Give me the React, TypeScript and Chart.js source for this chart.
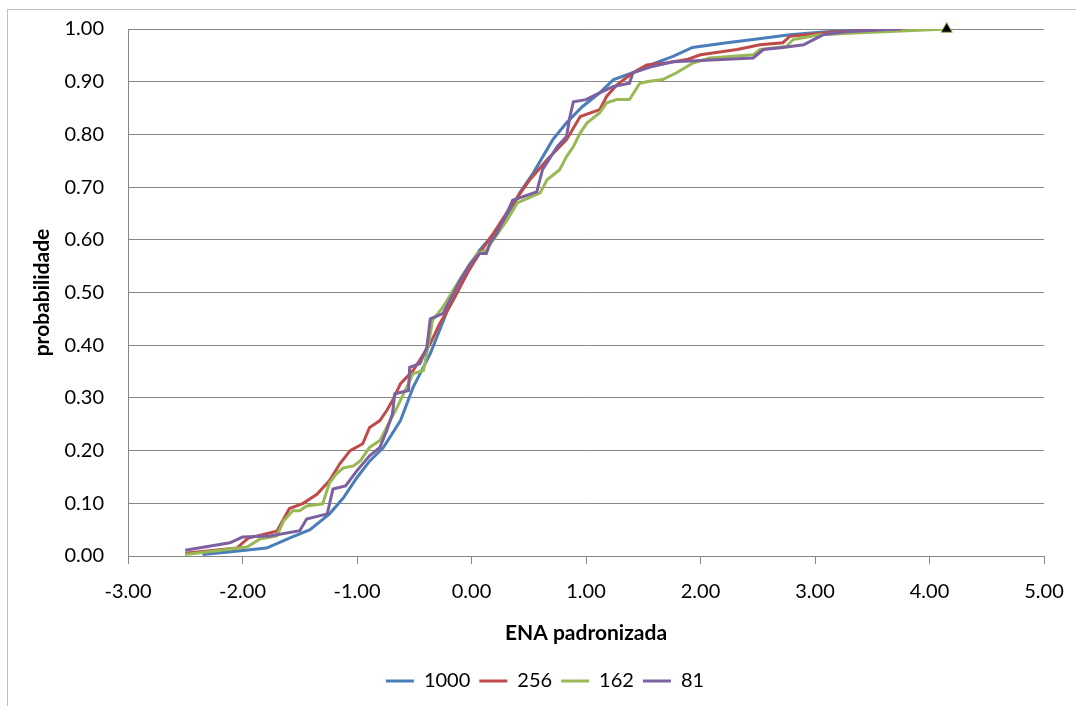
import React, { useEffect, useRef } from "react";
import { Chart, registerables } from "chart.js";

Chart.register(...registerables);

const seriesNames = ["1000", "256", "162", "81"];
const seriesColors = ["#4A7EBB", "#BE4B48", "#98B954", "#7D60A0"];

const x1000 = [-2.35, -2.1, -1.79, -1.59, -1.41, -1.24, -1.12, -1.0, -0.89, -0.77, -0.62, -0.51, -0.36, -0.21, -0.07, 0.07, 0.22, 0.36, 0.42, 0.54, 0.71, 0.83, 0.97, 1.12, 1.24, 1.41, 1.56, 1.76, 1.93, 2.23, 2.46, 2.78, 3.1, 3.5, 3.9];
const p1000 = [0.003, 0.008, 0.015, 0.034, 0.05, 0.08, 0.11, 0.149, 0.18, 0.206, 0.257, 0.32, 0.384, 0.466, 0.523, 0.58, 0.618, 0.662, 0.689, 0.727, 0.79, 0.822, 0.853, 0.879, 0.904, 0.917, 0.932, 0.948, 0.965, 0.974, 0.98, 0.989, 0.995, 0.999, 1.0];

const x256 = [-2.5, -2.05, -1.95, -1.7, -1.59, -1.47, -1.35, -1.24, -1.15, -1.06, -0.95, -0.89, -0.8, -0.74, -0.69, -0.62, -0.51, -0.36, -0.28, -0.16, -0.04, 0.07, 0.19, 0.34, 0.51, 0.66, 0.83, 0.95, 1.12, 1.18, 1.27, 1.41, 1.53, 1.71, 1.88, 2.0, 2.32, 2.52, 2.72, 2.78, 3.1, 3.39, 3.8];
const p256 = [0.005, 0.015, 0.034, 0.047, 0.09, 0.1, 0.117, 0.143, 0.175, 0.2, 0.213, 0.244, 0.257, 0.276, 0.295, 0.327, 0.352, 0.403, 0.44, 0.485, 0.536, 0.574, 0.612, 0.662, 0.714, 0.752, 0.79, 0.834, 0.847, 0.872, 0.894, 0.917, 0.932, 0.936, 0.942, 0.951, 0.961, 0.97, 0.974, 0.986, 0.993, 0.997, 1.0];

const x162 = [-2.5, -1.96, -1.85, -1.7, -1.64, -1.56, -1.5, -1.44, -1.3, -1.24, -1.18, -1.12, -1.03, -0.97, -0.89, -0.8, -0.71, -0.65, -0.51, -0.42, -0.38, -0.34, -0.25, -0.16, -0.07, 0.05, 0.13, 0.19, 0.31, 0.4, 0.6, 0.66, 0.77, 0.83, 0.89, 0.95, 1.01, 1.12, 1.18, 1.27, 1.38, 1.47, 1.53, 1.67, 1.79, 1.94, 2.08, 2.46, 2.52, 2.75, 2.81, 3.04, 3.39, 3.86, 4.15];
const p162 = [0.003, 0.017, 0.032, 0.038, 0.067, 0.086, 0.086, 0.095, 0.099, 0.139, 0.156, 0.167, 0.171, 0.181, 0.206, 0.219, 0.257, 0.282, 0.346, 0.352, 0.396, 0.447, 0.472, 0.504, 0.536, 0.574, 0.58, 0.6, 0.637, 0.67, 0.689, 0.714, 0.733, 0.758, 0.777, 0.803, 0.822, 0.841, 0.86, 0.866, 0.866, 0.897, 0.9, 0.904, 0.917, 0.936, 0.945, 0.951, 0.961, 0.967, 0.98, 0.989, 0.993, 0.997, 1.0];

const x81 = [-2.5, -2.11, -2.0, -1.76, -1.5, -1.44, -1.26, -1.21, -1.1, -1.0, -0.89, -0.8, -0.74, -0.69, -0.67, -0.55, -0.54, -0.45, -0.39, -0.36, -0.25, -0.19, -0.1, -0.01, 0.07, 0.13, 0.16, 0.22, 0.28, 0.36, 0.57, 0.62, 0.75, 0.83, 0.86, 0.89, 1.0, 1.12, 1.24, 1.38, 1.41, 1.58, 1.76, 2.0, 2.46, 2.55, 2.72, 2.9, 3.07, 3.28, 3.63, 3.75];
const p81 = [0.011, 0.025, 0.036, 0.038, 0.048, 0.07, 0.08, 0.127, 0.133, 0.162, 0.19, 0.206, 0.238, 0.27, 0.308, 0.314, 0.358, 0.365, 0.396, 0.45, 0.46, 0.485, 0.523, 0.555, 0.574, 0.574, 0.593, 0.612, 0.637, 0.675, 0.691, 0.733, 0.777, 0.796, 0.834, 0.862, 0.866, 0.879, 0.891, 0.897, 0.917, 0.929, 0.938, 0.94, 0.945, 0.961, 0.965, 0.97, 0.989, 0.995, 0.999, 1.0];

const markerX = [4.15];
const markerP = [1.0];

const xMin = -3;
const xMax = 5;
const yMin = 0;
const yMax = 1;

const FONT = "Lato, 'Open Sans', 'Liberation Sans', sans-serif";
const GRID = "#868686";

const zip = (xs: number[], ys: number[]) => xs.map((x, i) => ({ x, y: ys[i] }));

export default function App() {
  const ref = useRef<HTMLCanvasElement>(null);

  useEffect(() => {
    if (!ref.current) return;
    const xs = [x1000, x256, x162, x81];
    const ps = [p1000, p256, p162, p81];
    const datasets: any[] = seriesNames.map((name, i) => ({
      label: name,
      data: zip(xs[i], ps[i]),
      borderColor: seriesColors[i],
      backgroundColor: seriesColors[i],
      borderWidth: 3,
      pointRadius: 0,
      showLine: true,
      tension: 0,
      order: 4 - i,
    }));
    datasets.push({
      label: "",
      data: zip(markerX, markerP),
      pointStyle: "triangle",
      pointRadius: 6.5,
      backgroundColor: "#000000",
      borderColor: "#98B954",
      borderWidth: 1,
      showLine: false,
      clip: false,
      order: 0,
    });

    const shiftLegend = {
      id: "shiftLegend",
      afterLayout(chart: any) {
        const l = chart.legend;
        if (l) {
          l.left += 16;
          l.right += 16;
        }
      },
    };

    const chart = new Chart(ref.current, {
      type: "scatter",
      data: { datasets },
      plugins: [shiftLegend],
      options: {
        animation: false,
        responsive: false,
        layout: { padding: { left: 14, right: 32, top: 29, bottom: 5 } },
        plugins: {
          tooltip: { enabled: false },
          legend: {
            position: "bottom",
            labels: {
              boxWidth: 28,
              boxHeight: 3,
              padding: 9,
              color: "#000",
              font: { family: FONT, size: 20 },
              filter: (item: any) => item.datasetIndex < 4,
              sort: (a: any, b: any) => a.datasetIndex - b.datasetIndex,
              generateLabels: (chart: any) =>
                Chart.defaults.plugins.legend.labels
                  .generateLabels(chart)
                  .map((it: any) => ({ ...it, lineWidth: 0 })),
            },
          },
        },
        scales: {
          x: {
            type: "linear",
            min: xMin,
            max: xMax,
            ticks: {
              stepSize: 1,
              callback: (v: any) => Number(v).toFixed(2),
              color: "#000",
              font: { family: FONT, size: 20, lineHeight: "36px" },
              padding: 10,
              maxRotation: 0,
            },
            grid: { drawOnChartArea: false, drawTicks: true, tickLength: 8, color: GRID },
            border: { display: true, color: GRID },
            title: {
              display: true,
              text: "ENA padronizada",
              color: "#000",
              font: { family: FONT, size: 21, weight: "bold" },
              padding: { top: 4, bottom: 16 },
            },
            afterFit: (s: any) => {
              s.height = 106;
            },
          },
          y: {
            type: "linear",
            min: yMin,
            max: yMax,
            ticks: {
              stepSize: 0.1,
              callback: (v: any) => Number(v).toFixed(2),
              color: "#000",
              font: { family: FONT, size: 20 },
              padding: 0,
            },
            grid: { drawTicks: true, tickLength: 24, tickColor: "rgba(0,0,0,0)", color: GRID },
            border: { display: true, color: GRID },
            title: {
              display: true,
              text: "probabilidade",
              color: "#000",
              font: { family: FONT, size: 21, weight: "bold" },
              padding: { top: 16, bottom: 0 },
            },
            afterFit: (s: any) => {
              s.width = 114;
            },
          },
        },
      },
    } as any);
    return () => chart.destroy();
  }, []);

  return (
    <div
      style={{
        position: "absolute",
        left: 0,
        top: 0,
        width: 1076,
        height: 706,
        overflow: "hidden",
        background: "#fff",
      }}
    >
      <div
        style={{
          position: "absolute",
          left: 7,
          top: 9,
          width: 1100,
          height: 720,
          border: "1px solid #c0c0c0",
          boxSizing: "border-box",
        }}
      />
      <canvas
        ref={ref}
        width={1076}
        height={706}
        style={{ position: "absolute", left: 0, top: 0, width: 1076, height: 706 }}
      />
    </div>
  );
}
